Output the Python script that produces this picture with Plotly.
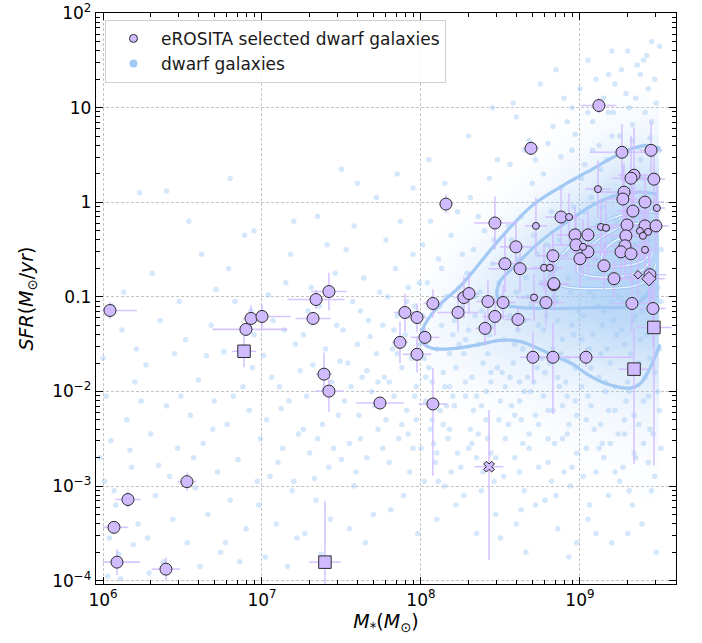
import numpy as np
import plotly.graph_objects as go

BLUE = '#a1c9f4'
PURPLE = '#d0bbff'
FONT = 'DejaVu Sans'

# ---------------- data (log10 M*, log10 SFR, xerr-, xerr+, yerr-, yerr+  [dex]) -------------
circles_big = [
    (6.044, -1.144, 0.05, 0.17, 0.09, 0.09), (6.157, -3.142, 0.08, 0.08, 0.08, 0.08),
    (6.069, -3.436, 0.07, 0.09, 0.05, 0.05), (6.088, -3.804, 0.09, 0.145, 0.135, 0.135),
    (6.396, -3.878, 0.09, 0.09, 0.12, 0.12), (6.528, -2.953, 0.06, 0.06, 0.10, 0.10),
    (6.899, -1.344, 0.21, 0.26, 0.06, 0.06), (6.931, -1.228, 0.05, 0.05, 0.14, 0.14),
    (7.000, -1.207, 0.03, 0.18, 0.13, 0.13), (7.340, -1.028, 0.18, 0.18, 0.10, 0.10),
    (7.321, -1.228, 0.11, 0.11, 0.06, 0.06), (7.421, -0.944, 0.11, 0.11, 0.20, 0.20),
    (7.390, -1.817, 0.05, 0.05, 0.23, 0.23), (7.421, -1.996, 0.09, 0.09, 0.22, 0.22),
    (7.742, -2.122, 0.15, 0.15, 0.05, 0.05), (7.868, -1.481, 0.05, 0.05, 0.22, 0.22),
    (7.899, -1.165, 0.07, 0.07, 0.20, 0.20), (7.975, -1.218, 0.06, 0.06, 0.15, 0.15),
    (7.975, -1.607, 0.09, 0.09, 0.19, 0.19), (8.025, -1.428, 0.09, 0.09, 0.10, 0.10),
    (8.075, -1.070, 0.06, 0.06, 0.15, 0.15), (8.075, -2.132, 0.09, 0.09, 0.76, 0.38),
    (8.233, -1.165, 0.13, 0.13, 0.20, 0.20), (8.270, -1.007, 0.06, 0.06, 0.22, 0.22),
    (8.302, -0.965, 0.06, 0.06, 0.22, 0.22), (8.403, -1.333, 0.06, 0.06, 0.18, 0.18),
    (8.421, -1.049, 0.07, 0.07, 0.22, 0.22), (8.465, -1.207, 0.08, 0.08, 0.20, 0.20),
    (8.516, -1.060, 0.08, 0.08, 0.18, 0.18), (8.610, -1.239, 0.08, 0.08, 0.12, 0.12),
    (8.786, -1.060, 0.11, 0.11, 0.25, 0.25), (8.836, -0.871, 0.09, 0.09, 0.28, 0.28),
    (8.704, -1.638, 0.08, 0.08, 0.27, 0.27), (8.830, -1.638, 0.06, 0.21, 0.60, 0.36),
    (9.038, -1.638, 0.10, 0.30, 0.10, 0.10), (9.327, -1.070, 0.12, 0.12, 0.30, 0.30),
    (9.459, -1.123, 0.08, 0.08, 0.40, 0.40), (8.157, -0.019, 0.04, 0.04, 0.10, 0.10),
    (8.692, 0.570, 0.05, 0.05, 0.07, 0.07), (9.119, 1.022, 0.11, 0.11, 0.08, 0.08),
    (9.264, 0.528, 0.20, 0.20, 0.30, 0.30), (9.447, 0.549, 0.07, 0.07, 0.30, 0.30),
    (9.340, 0.286, 0.10, 0.10, 0.50, 0.50), (9.321, 0.254, 0.12, 0.12, 0.45, 0.45),
    (9.465, 0.244, 0.07, 0.07, 0.35, 0.35), (9.277, 0.107, 0.15, 0.15, 0.30, 0.30),
    (9.270, 0.034, 0.10, 0.10, 0.35, 0.35), (9.409, 0.002, 0.12, 0.12, 0.30, 0.30),
    (9.333, -0.093, 0.10, 0.10, 0.25, 0.25), (8.465, -0.219, 0.13, 0.13, 0.28, 0.28),
    (8.881, -0.156, 0.10, 0.10, 0.30, 0.30), (9.296, -0.240, 0.12, 0.12, 0.30, 0.30),
    (9.409, -0.250, 0.10, 0.10, 0.35, 0.35), (9.478, -0.250, 0.08, 0.08, 0.30, 0.30),
    (8.969, -0.345, 0.12, 0.12, 0.30, 0.30), (9.050, -0.345, 0.10, 0.10, 0.25, 0.25),
    (9.289, -0.355, 0.12, 0.12, 0.30, 0.30), (8.597, -0.471, 0.10, 0.10, 0.28, 0.28),
    (8.975, -0.450, 0.15, 0.15, 0.30, 0.30), (9.283, -0.460, 0.10, 0.10, 0.35, 0.35),
    (9.050, -0.524, 0.12, 0.12, 0.25, 0.25), (9.258, -0.524, 0.15, 0.15, 0.30, 0.30),
    (9.321, -0.545, 0.10, 0.10, 0.30, 0.30), (8.830, -0.566, 0.10, 0.10, 0.25, 0.25),
    (9.000, -0.597, 0.12, 0.12, 0.30, 0.30), (8.528, -0.650, 0.08, 0.08, 0.30, 0.30),
    (8.623, -0.702, 0.20, 0.20, 0.25, 0.25), (9.151, -0.671, 0.12, 0.12, 0.25, 0.25),
    (9.214, -0.808, 0.15, 0.15, 0.20, 0.20), (8.836, -0.860, 0.10, 0.10, 0.25, 0.25),
    (9.440, -0.766, 0.10, 0.10, 0.30, 0.30),
]
circles_small = [
    (9.113, 0.139, 0.08, 0.08, 0.30, 0.30), (9.484, -0.061, 0.05, 0.05, 0.30, 0.30),
    (8.931, -0.156, 0.06, 0.06, 0.25, 0.25), (8.723, -0.250, 0.07, 0.07, 0.30, 0.30),
    (9.132, -0.261, 0.08, 0.08, 0.30, 0.30), (9.164, -0.271, 0.08, 0.08, 0.30, 0.30),
    (9.377, -0.303, 0.08, 0.08, 0.30, 0.30), (9.428, -0.313, 0.06, 0.06, 0.25, 0.25),
    (9.396, -0.355, 0.06, 0.06, 0.25, 0.25), (9.019, -0.471, 0.08, 0.08, 0.30, 0.30),
    (9.409, -0.503, 0.06, 0.06, 0.25, 0.25), (8.774, -0.692, 0.08, 0.08, 0.25, 0.25),
    (8.811, -0.692, 0.08, 0.08, 0.25, 0.25), (8.711, -1.007, 0.11, 0.11, 0.25, 0.25),
]
squares = [
    (6.887, -1.575, 0.075, 0.075, 0.17, 0.17), (7.396, -3.804, 0.10, 0.10, 0.65, 0.65),
    (9.465, -1.323, 0.11, 0.11, 1.46, 0.60), (9.340, -1.764, 0.095, 0.095, 1.00, 0.43),
]
diamonds_big = [(9.434, -0.808, 0.10, 0.10, 0.30, 0.30)]
diamonds_small = [(9.365, -0.766, 0.08, 0.08, 0.25, 0.25)]
crosses = [(8.428, -2.795, 0.09, 0.09, 0.99, 0.60)]

# background dwarf galaxies (log10 M*, log10 SFR)
dwarf_points = """
6.00 -1.65, 6.02 -2.05, 6.05 -2.52, 6.01 -2.95, 6.08 -3.20, 6.04 -3.55, 6.10 -3.72, 6.03 -3.95,
6.12 -1.35, 6.15 -2.30, 6.18 -2.80, 6.20 -1.90, 6.22 -3.40, 6.13 -0.95, 6.23 0.10, 6.07 -3.05,
6.17 -2.62, 6.24 -2.10, 6.06 -1.10, 6.19 -3.62, 6.11 -3.98, 5.98 -2.70, 6.21 -1.55,
6.27 -1.72, 6.30 -2.45, 6.33 -3.10, 6.28 -3.55, 6.36 -1.25, 6.40 -2.15, 6.42 -2.90, 6.38 -3.80,
6.45 -1.60, 6.47 -2.60, 6.31 -0.75, 6.44 -3.35, 6.49 -2.05, 6.35 -2.78, 6.29 -3.92, 6.48 -1.05,
6.52 -1.45, 6.55 -2.25, 6.58 -3.02, 6.53 -3.60, 6.60 -1.88, 6.63 -2.55, 6.66 -3.30, 6.62 -0.55,
6.68 -1.30, 6.70 -2.10, 6.72 -2.85, 6.57 -2.70, 6.74 -3.70, 6.65 -1.62, 6.71 -0.92, 6.54 -0.20,
6.69 -2.40, 6.61 -3.85,
6.76 -1.58, 6.78 -2.35, 6.80 -3.15, 6.83 -1.05, 6.85 -2.72, 6.88 -1.95, 6.90 -3.45, 6.92 -2.20,
6.95 -1.40, 6.97 -2.95, 6.79 -0.70, 6.86 -3.80, 6.94 -1.75, 6.99 -2.50, 6.82 -2.05, 6.89 -0.35,
6.98 -3.20, 6.77 -3.60, 6.93 -1.15,
7.01 -1.62, 7.03 -2.30, 7.05 -2.90, 7.07 -1.25, 7.09 -3.40, 7.11 -1.95, 7.13 -2.60, 7.15 -0.85,
7.17 -2.10, 7.19 -3.05, 7.21 -1.50, 7.23 -2.45, 7.02 -3.75, 7.06 -1.85, 7.10 -2.75, 7.14 -1.35,
7.18 -0.55, 7.22 -3.55, 7.24 -1.78, 7.12 -2.18, 7.20 -2.95, 7.04 -0.98, 7.16 -3.85,
7.26 -1.40, 7.28 -2.05, 7.30 -2.65, 7.32 -1.72, 7.34 -3.15, 7.36 -1.10, 7.38 -2.35, 7.40 -1.55,
7.42 -2.80, 7.44 -1.90, 7.46 -0.75, 7.48 -2.25, 7.27 -3.50, 7.31 -0.90, 7.35 -2.50, 7.39 -1.98,
7.43 -3.35, 7.47 -1.30, 7.29 -1.15, 7.33 -2.92, 7.41 -0.45, 7.45 -2.60, 7.37 -3.72, 7.49 -1.68,
7.26 -2.40,
7.51 -1.35, 7.52 -2.10, 7.54 -1.70, 7.55 -2.55, 7.57 -1.05, 7.58 -3.00, 7.60 -1.50, 7.61 -2.25,
7.63 -1.85, 7.64 -0.80, 7.66 -2.70, 7.67 -1.25, 7.69 -2.00, 7.70 -3.30, 7.72 -1.60, 7.73 -2.40,
7.74 -0.95, 7.53 -0.50, 7.56 -1.95, 7.59 -2.85, 7.62 -1.15, 7.65 -3.60, 7.68 -1.42, 7.71 -2.15,
7.50 -2.72, 7.58 -0.25, 7.66 -1.78, 7.73 -1.90, 7.55 -3.45, 7.62 -2.50,
7.76 -1.30, 7.77 -1.85, 7.78 -2.30, 7.79 -1.00, 7.80 -2.75, 7.82 -1.55, 7.83 -2.05, 7.84 -0.70,
7.85 -1.20, 7.86 -2.50, 7.88 -1.75, 7.89 -3.10, 7.90 -1.40, 7.91 -2.20, 7.92 -0.90, 7.94 -1.65,
7.95 -2.60, 7.96 -1.10, 7.97 -1.95, 7.98 -3.50, 7.99 -1.50, 7.78 -0.40, 7.81 -3.25, 7.87 -0.20,
7.93 -2.85, 7.85 -1.60, 7.95 -0.55, 7.80 -1.90, 7.88 -2.35, 7.97 -2.30, 7.83 -1.35, 7.91 -1.05,
7.76 -2.60, 7.99 -0.85,
8.01 -1.20, 8.02 -1.65, 8.03 -2.10, 8.04 -0.85, 8.05 -1.45, 8.06 -2.40, 8.07 -1.90, 8.08 -1.05,
8.09 -2.75, 8.10 -1.55, 8.11 -0.60, 8.12 -2.20, 8.13 -1.30, 8.14 -1.80, 8.15 -3.00, 8.16 -1.00,
8.17 -2.50, 8.18 -1.60, 8.19 -0.35, 8.20 -2.05, 8.21 -1.25, 8.22 -1.75, 8.23 -2.65, 8.24 -0.90,
8.02 -2.95, 8.06 -0.20, 8.10 -3.35, 8.14 -2.35, 8.18 -1.95, 8.22 -3.20, 8.05 -1.75, 8.13 -0.70,
8.20 -1.40, 8.08 -2.55, 8.16 -2.15, 8.24 -1.50, 8.01 -0.45, 8.12 -1.10, 8.19 -2.85, 8.23 -0.10,
8.26 -1.10, 8.27 -1.60, 8.28 -2.05, 8.29 -0.75, 8.30 -1.35, 8.31 -2.40, 8.32 -1.85, 8.33 -0.50,
8.34 -1.20, 8.35 -2.70, 8.36 -1.50, 8.37 -0.95, 8.38 -2.15, 8.39 -1.70, 8.40 -0.30, 8.41 -1.05,
8.42 -2.50, 8.43 -1.40, 8.44 -1.90, 8.45 -0.65, 8.46 -2.95, 8.47 -1.25, 8.48 -1.75, 8.49 -2.30,
8.27 -3.10, 8.31 0.05, 8.35 -3.50, 8.39 -2.85, 8.43 0.25, 8.47 -3.30, 8.28 -1.45, 8.33 -2.20,
8.38 -1.15, 8.42 -1.60, 8.46 -0.40, 8.30 -2.60, 8.36 -0.15, 8.41 -2.00, 8.45 -1.30, 8.49 -0.85,
8.26 -0.55, 8.34 -1.00, 8.44 -2.65, 8.48 0.45,
8.51 -1.00, 8.52 -1.45, 8.53 -1.95, 8.54 -0.70, 8.55 -2.35, 8.56 -1.20, 8.57 -0.40, 8.58 -1.70,
8.59 -2.70, 8.60 -0.95, 8.61 -1.35, 8.62 -2.10, 8.63 -0.15, 8.64 -1.55, 8.65 -3.05, 8.66 -0.80,
8.67 -1.85, 8.68 -2.45, 8.69 -1.10, 8.70 0.20, 8.71 -1.60, 8.72 -2.25, 8.73 -0.55, 8.74 -1.30,
8.52 -2.90, 8.56 0.40, 8.60 -3.40, 8.64 -2.55, 8.68 0.65, 8.72 -3.20, 8.53 -1.10, 8.57 -2.15,
8.61 -0.60, 8.65 -1.25, 8.69 -2.00, 8.73 -1.75, 8.55 -0.25, 8.59 -1.50, 8.63 -2.30, 8.67 -1.00,
8.71 -0.35, 8.51 -1.80, 8.62 -1.90, 8.74 -2.80, 8.58 1.05, 8.66 -3.70,
8.76 -0.85, 8.77 -1.35, 8.78 -1.80, 8.79 -0.45, 8.80 -2.20, 8.81 -1.05, 8.82 -0.10, 8.83 -1.55,
8.84 -2.55, 8.85 -0.70, 8.86 -1.25, 8.87 -1.95, 8.88 0.15, 8.89 -1.45, 8.90 -2.85, 8.91 -0.55,
8.92 -1.65, 8.93 -2.35, 8.94 -0.95, 8.95 0.55, 8.96 -1.40, 8.97 -2.10, 8.98 -0.30, 8.99 -1.15,
8.78 -3.15, 8.82 -2.95, 8.86 -3.45, 8.90 -0.20, 8.94 -3.00, 8.98 -2.65, 8.77 0.30, 8.81 -1.70,
8.85 -1.05, 8.89 -2.15, 8.93 -0.80, 8.97 -1.75, 8.79 -1.20, 8.83 0.80, 8.87 -0.40, 8.91 -1.90,
8.95 -1.30, 8.99 -0.60, 8.80 -2.50, 8.84 -1.00, 8.88 -1.60, 8.92 -2.45, 8.96 -0.05, 8.76 -1.65,
8.90 1.10, 8.98 -3.60,
9.01 -0.70, 9.02 -1.20, 9.03 -1.65, 9.04 -0.35, 9.05 -2.05, 9.06 -0.95, 9.07 0.05, 9.08 -1.40,
9.09 -2.40, 9.10 -0.60, 9.11 -1.10, 9.12 -1.85, 9.13 0.35, 9.14 -1.30, 9.15 -2.70, 9.16 -0.45,
9.17 -1.55, 9.18 -2.20, 9.19 -0.85, 9.20 0.70, 9.21 -1.25, 9.22 -1.95, 9.23 -0.20, 9.24 -1.00,
9.02 -2.90, 9.06 -3.20, 9.10 -3.50, 9.14 -2.55, 9.18 0.95, 9.22 -2.85, 9.01 -1.45, 9.05 -0.80,
9.09 -1.00, 9.13 -1.60, 9.17 -0.65, 9.21 -0.40, 9.03 -0.10, 9.07 -1.75, 9.11 -0.25, 9.15 -1.15,
9.19 -1.70, 9.23 -1.40, 9.04 -2.30, 9.08 0.55, 9.12 -0.75, 9.16 -2.00, 9.20 -1.05, 9.24 -2.45,
9.06 -1.55, 9.14 -0.05, 9.22 -0.90, 9.10 1.30, 9.18 -3.10, 9.01 0.25, 9.12 -2.60,
9.26 -0.60, 9.27 -1.05, 9.28 -1.50, 9.29 -0.25, 9.30 -1.90, 9.31 -0.80, 9.32 0.15, 9.33 -1.25,
9.34 -2.25, 9.35 -0.45, 9.36 -0.95, 9.37 -1.70, 9.38 0.45, 9.39 -1.15, 9.40 -2.55, 9.41 -0.30,
9.42 -1.40, 9.43 -2.05, 9.44 -0.70, 9.45 0.85, 9.46 -1.10, 9.47 -1.80, 9.48 -0.10, 9.49 -0.90,
9.50 -1.55, 9.51 -0.50, 9.27 -2.80, 9.31 -3.05, 9.35 -2.70, 9.39 -3.40, 9.43 1.20, 9.47 -2.90,
9.26 -1.35, 9.30 -0.55, 9.34 -0.85, 9.38 -1.45, 9.42 -0.55, 9.46 -0.30, 9.50 -2.20, 9.28 0.00,
9.32 -1.60, 9.36 -0.15, 9.40 -1.00, 9.44 -1.65, 9.48 -1.30, 9.29 -2.10, 9.33 0.65, 9.37 -0.65,
9.41 -1.85, 9.45 -1.00, 9.49 -0.20, 9.27 -0.35, 9.35 -1.20, 9.43 -0.40, 9.51 -1.05, 9.31 1.00,
9.39 0.25, 9.47 0.30, 9.30 -3.50, 9.44 -2.40, 9.36 1.45, 9.48 -3.70, 9.42 1.55, 9.28 -2.45,
6.40 0.12, 6.95 -0.30, 7.35 -0.15, 7.60 0.20, 7.72 0.05, 7.85 0.30, 7.95 0.15, 8.05 0.45,
8.15 0.20, 8.30 0.70, 8.45 1.00, 8.60 0.90, 8.75 1.25, 8.85 1.40, 9.05 1.50, 9.22 1.25,
9.30 1.60, 9.38 1.35, 9.45 1.70, 9.15 1.10, 8.95 1.00, 7.50 0.35, 7.20 -0.20, 6.80 0.25,
7.92 -2.45, 7.96 -2.05, 8.00 -2.60, 8.03 -1.85, 8.07 -2.30, 8.11 -2.95, 8.15 -1.95, 8.18 -2.40,
8.21 -2.15, 8.25 -2.80, 8.28 -1.90, 8.32 -2.55, 8.35 -2.05, 8.38 -3.05, 8.41 -2.30, 8.44 -1.80,
8.47 -2.70, 8.50 -2.10, 8.53 -2.50, 8.56 -1.85, 8.59 -2.25, 8.62 -2.85, 8.65 -2.00, 8.68 -2.60,
8.71 -1.90, 8.74 -2.35, 8.77 -2.05, 8.80 -2.75, 8.83 -2.20, 8.86 -1.85, 8.89 -2.50, 8.92 -2.05,
8.95 -2.80, 8.98 -2.25, 9.01 -1.95, 9.04 -2.60, 9.07 -2.15, 9.10 -2.85, 9.13 -2.35, 9.16 -1.90,
9.19 -2.55, 9.22 -2.20, 9.25 -2.95, 9.28 -2.30, 9.31 -2.00, 9.34 -2.65, 9.37 -2.35, 9.40 -2.10,
9.43 -2.75, 9.46 -2.45, 9.49 -2.00, 9.51 -2.60, 8.10 -2.65, 8.36 -2.45, 8.63 -3.25, 8.85 -3.10,
9.05 -3.35, 9.33 -3.20, 9.45 -3.05, 8.50 -3.55, 8.93 -3.75, 9.20 -3.60,
8.72 0.45, 8.80 0.62, 8.88 0.48, 8.97 0.72, 9.03 0.40, 9.08 0.85, 9.12 0.60, 9.17 0.45,
9.21 0.95, 9.25 0.70, 9.29 1.15, 9.33 0.82, 9.37 0.58, 9.41 0.95, 9.44 0.68, 9.48 1.05,
9.50 0.55, 9.26 1.40, 9.40 1.50, 9.47 1.30, 9.35 1.10, 9.18 1.35, 9.00 1.20, 8.92 0.85,
8.65 0.55, 9.50 1.65, 9.20 1.60, 9.05 0.95
"""

# density of the dwarf-galaxy cloud, rows = log SFR, cols = log M*
wash_logM = [8.0, 8.2, 8.4, 8.6, 8.8, 9.0, 9.2, 9.4]
wash_logSFR = [-3.0, -2.75, -2.5, -2.25, -2.0, -1.75, -1.5, -1.25, -1.0, -0.75,
               -0.5, -0.25, 0.0, 0.25, 0.5, 0.75, 1.0, 1.25]
wash_density = [
    [0.00, 0.00, 0.00, 0.00, 0.00, 0.00, 0.00, 0.03],
    [0.00, 0.00, 0.00, 0.00, 0.00, 0.03, 0.05, 0.06],
    [0.00, 0.00, 0.00, 0.03, 0.05, 0.08, 0.10, 0.12],
    [0.00, 0.00, 0.03, 0.06, 0.10, 0.14, 0.17, 0.20],
    [0.00, 0.05, 0.08, 0.12, 0.18, 0.22, 0.28, 0.32],
    [0.05, 0.10, 0.18, 0.25, 0.32, 0.38, 0.45, 0.50],
    [0.08, 0.18, 0.28, 0.38, 0.48, 0.58, 0.68, 0.72],
    [0.08, 0.22, 0.35, 0.50, 0.65, 0.78, 0.88, 0.92],
    [0.05, 0.20, 0.38, 0.58, 0.75, 0.90, 1.00, 1.00],
    [0.02, 0.12, 0.30, 0.52, 0.75, 0.92, 1.00, 1.00],
    [0.00, 0.06, 0.18, 0.38, 0.62, 0.85, 1.00, 1.00],
    [0.00, 0.02, 0.08, 0.22, 0.45, 0.70, 0.92, 0.95],
    [0.00, 0.00, 0.03, 0.10, 0.25, 0.48, 0.75, 0.82],
    [0.00, 0.00, 0.00, 0.04, 0.12, 0.28, 0.52, 0.60],
    [0.00, 0.00, 0.00, 0.00, 0.05, 0.14, 0.30, 0.38],
    [0.00, 0.00, 0.00, 0.00, 0.02, 0.06, 0.15, 0.20],
    [0.00, 0.00, 0.00, 0.00, 0.00, 0.02, 0.06, 0.08],
    [0.00, 0.00, 0.00, 0.00, 0.00, 0.00, 0.00, 0.00],
]

# density contour levels of the dwarf galaxies (log10 M*, log10 SFR)
contour_outer = [
    (9.503, 0.570), (9.421, 0.601), (9.333, 0.570), (9.208, 0.475), (9.044, 0.318),
    (8.918, 0.202), (8.704, -0.029), (8.497, -0.387), (8.352, -0.681), (8.245, -0.892),
    (8.138, -1.049), (8.057, -1.207), (8.006, -1.365), (8.006, -1.470), (8.069, -1.544),
    (8.214, -1.544), (8.371, -1.502), (8.497, -1.460), (8.623, -1.470), (8.748, -1.554),
    (8.855, -1.638), (8.956, -1.712), (9.044, -1.817), (9.170, -1.922), (9.314, -1.964),
    (9.377, -1.922), (9.440, -1.754), (9.503, -1.502),
]
contour_middle = [
    (9.484, 0.086), (9.377, 0.107), (9.233, 0.076), (9.082, -0.029), (8.918, -0.208),
    (8.748, -0.419), (8.579, -0.692), (8.497, -0.839), (8.478, -0.976), (8.509, -1.070),
    (8.623, -1.112), (8.811, -1.123), (9.126, -1.112), (9.314, -1.102), (9.396, -1.028),
    (9.440, -0.923), (9.465, -0.839),
]
contour_inner = [
    [(9.491, -0.103), (9.346, -0.103), (9.189, -0.177), (9.050, -0.313), (8.925, -0.492),
     (8.830, -0.681), (8.811, -0.818), (8.906, -0.892), (9.126, -0.913), (9.346, -0.881),
     (9.440, -0.797), (9.478, -0.650)],
    [(9.472, -0.229), (9.327, -0.229), (9.189, -0.313), (9.075, -0.450), (9.000, -0.608),
     (8.987, -0.734), (9.094, -0.787), (9.283, -0.776), (9.409, -0.692), (9.459, -0.524)],
    [(9.440, -0.355), (9.314, -0.355), (9.201, -0.429), (9.138, -0.555), (9.151, -0.660),
     (9.283, -0.671), (9.409, -0.608), (9.447, -0.503)],
]

x_range_log = [5.956, 9.604]
y_range_log = [-4.035, 2.0005]
x_tick_exp = [6, 7, 8, 9]
x_tick_text = ['10<sup>6</sup>', '10<sup>7</sup>', '10<sup>8</sup>', '10<sup>9</sup>']
y_tick_exp = [-4, -3, -2, -1, 0, 1, 2]
y_tick_text = ['10<sup>\u22124</sup>', '10<sup>\u22123</sup>', '10<sup>\u22122</sup>',
               '0.1', '1', '10', '10<sup>2</sup>']

# ---------------- helpers -------------------------------------------------------
def prep(rows):
    a = np.array(rows, dtype=float)
    lm, ls = a[:, 0], a[:, 1]
    x, y = 10 ** lm, 10 ** ls
    return dict(x=x, y=y,
                exm=x - 10 ** (lm - a[:, 2]), exp=10 ** (lm + a[:, 3]) - x,
                eym=y - 10 ** (ls - a[:, 4]), eyp=10 ** (ls + a[:, 5]) - y)

pairs = [p.split() for p in dwarf_points.replace('\n', ' ').split(',') if p.strip()]
bg_lm = np.array([float(p[0]) for p in pairs])
bg_ls = np.array([float(p[1]) for p in pairs])

fig = go.Figure()

# smooth wash of the dense cloud: drawn on a hidden linear axis pair measured in dex
fig.add_trace(go.Heatmap(
    x=wash_logM, y=wash_logSFR, z=wash_density, xaxis='x', yaxis='y',
    zsmooth='best', zmin=0, zmax=1, showscale=False, hoverinfo='skip',
    colorscale=[[0, 'rgba(161,201,244,0)'], [1, 'rgba(161,201,244,0.78)']]))

XA, YA = 'x2', 'y2'

# individual dwarf galaxies
fig.add_trace(go.Scatter(
    x=10 ** bg_lm, y=10 ** bg_ls, mode='markers', showlegend=False, hoverinfo='skip',
    xaxis=XA, yaxis=YA,
    marker=dict(size=5.5, color=BLUE, opacity=0.45, line=dict(width=0))))

# contours
for path in [contour_outer, contour_middle]:
    a = np.array(path)
    fig.add_trace(go.Scatter(x=10 ** a[:, 0], y=10 ** a[:, 1], mode='lines',
                             xaxis=XA, yaxis=YA,
                             line=dict(color=BLUE, width=3.2, shape='spline', smoothing=1.0),
                             showlegend=False, hoverinfo='skip'))
for path in contour_inner:
    a = np.array(path)
    for w, col in [(3.4, BLUE), (1.3, '#eef5fd')]:
        fig.add_trace(go.Scatter(x=10 ** a[:, 0], y=10 ** a[:, 1], mode='lines',
                                 xaxis=XA, yaxis=YA,
                                 line=dict(color=col, width=w, shape='spline', smoothing=1.0),
                                 showlegend=False, hoverinfo='skip'))

# error bars for all eROSITA sources
allrows = circles_big + circles_small + squares + diamonds_big + diamonds_small + crosses
d = prep(allrows)
ebcol = 'rgba(208,187,255,0.85)'
fig.add_trace(go.Scatter(
    x=d['x'], y=d['y'], mode='markers', marker=dict(size=1, opacity=0), showlegend=False,
    hoverinfo='skip', xaxis=XA, yaxis=YA,
    error_x=dict(type='data', symmetric=False, array=d['exp'], arrayminus=d['exm'],
                 color=ebcol, thickness=1.6, width=0),
    error_y=dict(type='data', symmetric=False, array=d['eyp'], arrayminus=d['eym'],
                 color=ebcol, thickness=1.6, width=0)))

edge = dict(color='#2b2b2b', width=1)
for rows, sym, size in [(circles_big, 'circle', 12), (circles_small, 'circle', 7),
                        (squares, 'square', 12.5), (diamonds_big, 'diamond', 11),
                        (diamonds_small, 'diamond', 6.5), (crosses, 'x', 9.5)]:
    p = prep(rows)
    fig.add_trace(go.Scatter(x=p['x'], y=p['y'], mode='markers', showlegend=False,
                             xaxis=XA, yaxis=YA,
                             marker=dict(symbol=sym, size=size, color=PURPLE, line=edge)))

# legend entries
fig.add_trace(go.Scatter(x=[None], y=[None], mode='markers', name='eROSITA selected dwarf galaxies',
                         xaxis=XA, yaxis=YA, legendgroup='a',
                         marker=dict(symbol='circle', size=8, color=PURPLE, line=edge)))
fig.add_trace(go.Scatter(x=[None], y=[None], mode='markers', name='dwarf galaxies',
                         xaxis=XA, yaxis=YA, legendgroup='b',
                         marker=dict(symbol='circle', size=8, color=BLUE, line=dict(width=0))))

minor_x = [m * 10 ** e for e in range(5, 10) for m in range(2, 10)]
minor_y = [m * 10.0 ** e for e in range(-5, 3) for m in range(2, 10)]

minor_common = dict(tickmode='array', ticks='inside', ticklen=4, tickwidth=1,
                    tickcolor='black', showgrid=False)
axis_common = dict(
    type='log', showline=True, linecolor='black', linewidth=1.4, mirror='allticks',
    ticks='inside', ticklen=7, tickwidth=1.2, tickcolor='black', automargin=False,
    showgrid=True, gridcolor='#c4c4c4', gridwidth=0.8, griddash='3px,2px',
    zeroline=False, tickfont=dict(family=FONT, size=17, color='black'),
    ticklabeloverflow='allow',
)

fig.update_layout(
    width=702, height=643, plot_bgcolor='white', paper_bgcolor='white',
    margin=dict(l=96, r=26, t=13, b=59),
    font=dict(family=FONT, color='black'),
    xaxis=dict(range=x_range_log, visible=False, automargin=False, fixedrange=True),
    yaxis=dict(range=y_range_log, visible=False, automargin=False, fixedrange=True),
    xaxis2=dict(axis_common, overlaying='x', anchor='y2',
                range=x_range_log,
                tickvals=[10 ** e for e in x_tick_exp], ticktext=x_tick_text,
                minor=dict(minor_common, tickvals=minor_x),
                title=dict(text='<i>M</i><sub>*</sub>(<i>M</i><sub>\u2299</sub>)',
                           font=dict(family=FONT, size=19), standoff=6)),
    yaxis2=dict(axis_common, overlaying='y', anchor='x2',
                range=y_range_log,
                tickvals=[10.0 ** e for e in y_tick_exp], ticktext=y_tick_text,
                minor=dict(minor_common, tickvals=minor_y),
                title=dict(text='<i>SFR</i>(<i>M</i><sub>\u2299</sub>/<i>yr</i>)',
                           font=dict(family=FONT, size=19), standoff=13)),
    legend=dict(x=0.0155, y=0.988, xanchor='left', yanchor='top',
                bgcolor='rgba(255,255,255,0.85)', bordercolor='#d0d0d0', borderwidth=1,
                font=dict(family=FONT, size=17, color='#1a1a1a'),
                itemwidth=45, tracegroupgap=0),
)

fig.write_html('out.html', config={'displayModeBar': False},
               post_script="document.body.style.margin='0px';")
